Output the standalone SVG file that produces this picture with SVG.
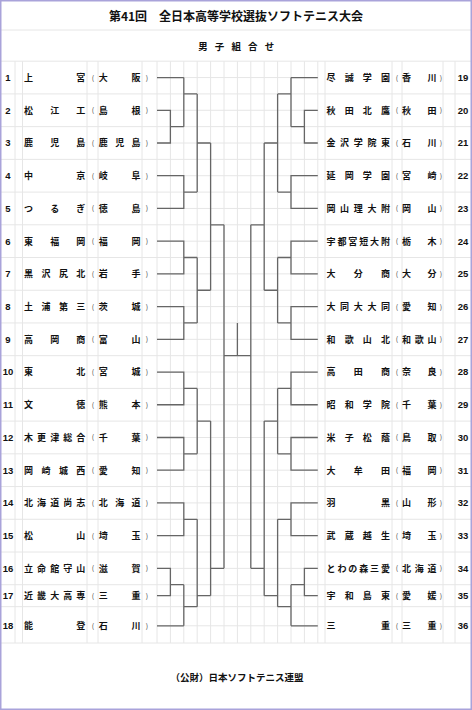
<svg xmlns="http://www.w3.org/2000/svg" width="472" height="710" viewBox="0 0 472 710">
<style>
.g{stroke:#e6e6e6;stroke-width:1;fill:none}
.b{stroke:#666;stroke-width:1.3;fill:none}
.t{font-family:"Noto Sans CJK JP","Noto Sans CJK SC",sans-serif;font-weight:bold;font-size:9px;fill:#111;text-anchor:middle}
.n{font-family:"Liberation Sans",Arial,sans-serif;font-weight:bold;font-size:9.5px;fill:#111;text-anchor:middle}
.p{font-family:"Noto Sans CJK JP",sans-serif;font-size:7px;fill:#444;text-anchor:middle}
.h{font-family:"Noto Sans CJK JP","Noto Sans CJK SC",sans-serif;font-weight:bold;fill:#111;text-anchor:middle}
</style>
<rect x="0" y="0" width="472" height="710" fill="#fff"/>
<g id="grid" class="g">
<path d="M0 30H471"/>
<path d="M15 61.2V643M22.5 61.2V643M87 61.2V643M98 61.2V643M142 61.2V643M157 61.2V643M170.4 61.2V643M183.8 61.2V643M197.2 61.2V643M210.6 61.2V643M224 61.2V643M237.4 61.2V643M250.8 61.2V643M264.2 61.2V643M277.6 61.2V643M291 61.2V643M304.4 61.2V643M317.8 61.2V643M325 61.2V643M392 61.2V643M402 61.2V643M443 61.2V643M455 61.2V643"/>
<path d="M0 61.2H471M0 93.92H471M0 126.64H471M0 159.36H471M0 192.08H471M0 224.8H471M0 257.52H471M0 290.24H471M0 322.96H471M0 355.68H471M0 388.4H471M0 421.12H471M0 453.84H471M0 486.56H471M0 519.28H471M0 552H471M0 584.72H471M0 606.7H471M0 643H471"/>
<path d="M157 77.56H317.8M157 110.28H317.8M157 143H317.8M157 175.72H317.8M157 208.44H317.8M157 241.16H317.8M157 273.88H317.8M157 306.6H317.8M157 339.32H317.8M157 372.04H317.8M157 404.76H317.8M157 437.48H317.8M157 470.2H317.8M157 502.92H317.8M157 535.64H317.8M157 568.36H317.8M157 595.7H317.8M157 625.8H317.8"/>
</g>
<g id="header">
<text class="h" x="236" y="20.5" font-size="12">第41回　全日本高等学校選抜ソフトテニス大会</text>
<text class="h" x="203 219.6 236.2 252.8 269.4" y="50" font-size="9.5">男子組合せ</text>
</g>
<g id="connectors" class="b">
<path d="M157 77.56H183.8M157 110.28H170.4V143H157M170.4 126.64H183.8M183.8 77.56V126.64M183.8 93.92H197.2M157 175.72H183.8V208.44H157M183.8 192.08H197.2M197.2 93.92V192.08M197.2 143H210.6M157 241.16H183.8V273.88H157M183.8 257.52H197.2M157 306.6H183.8V339.32H157M183.8 322.96H197.2M197.2 257.52V322.96M197.2 290.24H210.6M210.6 143V290.24M210.6 224.8H224M157 372.04H183.8V404.76H157M183.8 388.4H197.2M157 437.48H183.8V470.2H157M183.8 453.84H197.2M197.2 388.4V453.84M197.2 421.12H210.6M157 502.92H183.8V535.64H157M183.8 519.28H197.2M157 568.36H170.4V595.7H157M170.4 584.72H183.8M157 625.8H183.8M183.8 584.72V625.8M183.8 606.7H197.2M197.2 519.28V606.7M197.2 595.7H210.6M210.6 421.12V595.7M210.6 568.36H224M224 224.8V568.36"/>
<path d="M317.8 77.56H291M317.8 110.28H304.4V143H317.8M304.4 126.64H291M291 77.56V126.64M291 93.92H277.6M317.8 175.72H291V208.44H317.8M291 192.08H277.6M277.6 93.92V192.08M277.6 143H264.2M317.8 241.16H291V273.88H317.8M291 257.52H277.6M317.8 306.6H291V339.32H317.8M291 322.96H277.6M277.6 257.52V322.96M277.6 290.24H264.2M264.2 143V290.24M264.2 224.8H250.8M317.8 372.04H291V404.76H317.8M291 388.4H277.6M317.8 437.48H291V470.2H317.8M291 453.84H277.6M277.6 388.4V453.84M277.6 421.12H264.2M317.8 502.92H291V535.64H317.8M291 519.28H277.6M317.8 568.36H304.4V595.7H317.8M304.4 584.72H291M317.8 625.8H291M291 584.72V625.8M291 606.7H277.6M277.6 519.28V606.7M277.6 595.7H264.2M264.2 421.12V595.7M264.2 568.36H250.8M250.8 224.8V568.36"/>
<path d="M224 355.68H250.8M237.4 322.96V355.68"/>
</g>
<g id="e1"><text class="n" x="8" y="81">1</text><text class="t" x="28.5 80.8" y="80.9">上宮</text><text class="p" x="93" y="80.5">(</text><text class="t" x="103.3 136" y="80.9">大阪</text><text class="p" x="147" y="80.5">)</text></g>
<g id="e2"><text class="n" x="8" y="113.7">2</text><text class="t" x="28.5 54.65 80.8" y="113.6">松江工</text><text class="p" x="93" y="113.2">(</text><text class="t" x="103.3 136" y="113.6">島根</text><text class="p" x="147" y="113.2">)</text></g>
<g id="e3"><text class="n" x="8" y="146.4">3</text><text class="t" x="28.5 54.65 80.8" y="146.3">鹿児島</text><text class="p" x="93" y="145.9">(</text><text class="t" x="103.3 119.7 136" y="146.3">鹿児島</text><text class="p" x="147" y="145.9">)</text></g>
<g id="e4"><text class="n" x="8" y="179.1">4</text><text class="t" x="28.5 80.8" y="179">中京</text><text class="p" x="93" y="178.6">(</text><text class="t" x="103.3 136" y="179">岐阜</text><text class="p" x="147" y="178.6">)</text></g>
<g id="e5"><text class="n" x="8" y="211.8">5</text><text class="t" x="28.5 54.65 80.8" y="211.7">つるぎ</text><text class="p" x="93" y="211.3">(</text><text class="t" x="103.3 136" y="211.7">徳島</text><text class="p" x="147" y="211.3">)</text></g>
<g id="e6"><text class="n" x="8" y="244.6">6</text><text class="t" x="28.5 54.65 80.8" y="244.5">東福岡</text><text class="p" x="93" y="244.1">(</text><text class="t" x="103.3 136" y="244.5">福岡</text><text class="p" x="147" y="244.1">)</text></g>
<g id="e7"><text class="n" x="8" y="277.3">7</text><text class="t" x="28.5 45.9 63.4 80.8" y="277.2">黒沢尻北</text><text class="p" x="93" y="276.8">(</text><text class="t" x="103.3 136" y="277.2">岩手</text><text class="p" x="147" y="276.8">)</text></g>
<g id="e8"><text class="n" x="8" y="310">8</text><text class="t" x="28.5 45.9 63.4 80.8" y="309.9">土浦第三</text><text class="p" x="93" y="309.5">(</text><text class="t" x="103.3 136" y="309.9">茨城</text><text class="p" x="147" y="309.5">)</text></g>
<g id="e9"><text class="n" x="8" y="342.7">9</text><text class="t" x="28.5 54.65 80.8" y="342.6">高岡商</text><text class="p" x="93" y="342.2">(</text><text class="t" x="103.3 136" y="342.6">富山</text><text class="p" x="147" y="342.2">)</text></g>
<g id="e10"><text class="n" x="8" y="375.4">10</text><text class="t" x="28.5 80.8" y="375.3">東北</text><text class="p" x="93" y="374.9">(</text><text class="t" x="103.3 136" y="375.3">宮城</text><text class="p" x="147" y="374.9">)</text></g>
<g id="e11"><text class="n" x="8" y="408.2">11</text><text class="t" x="28.5 80.8" y="408.1">文徳</text><text class="p" x="93" y="407.7">(</text><text class="t" x="103.3 136" y="408.1">熊本</text><text class="p" x="147" y="407.7">)</text></g>
<g id="e12"><text class="n" x="8" y="440.9">12</text><text class="t" x="28.5 41.6 54.7 67.7 80.8" y="440.8">木更津総合</text><text class="p" x="93" y="440.4">(</text><text class="t" x="103.3 136" y="440.8">千葉</text><text class="p" x="147" y="440.4">)</text></g>
<g id="e13"><text class="n" x="8" y="473.6">13</text><text class="t" x="28.5 45.9 63.4 80.8" y="473.5">岡崎城西</text><text class="p" x="93" y="473.1">(</text><text class="t" x="103.3 136" y="473.5">愛知</text><text class="p" x="147" y="473.1">)</text></g>
<g id="e14"><text class="n" x="8" y="506.3">14</text><text class="t" x="28.5 41.6 54.7 67.7 80.8" y="506.2">北海道尚志</text><text class="p" x="93" y="505.8">(</text><text class="t" x="103.3 119.7 136" y="506.2">北海道</text><text class="p" x="147" y="505.8">)</text></g>
<g id="e15"><text class="n" x="8" y="539">15</text><text class="t" x="28.5 80.8" y="538.9">松山</text><text class="p" x="93" y="538.5">(</text><text class="t" x="103.3 136" y="538.9">埼玉</text><text class="p" x="147" y="538.5">)</text></g>
<g id="e16"><text class="n" x="8" y="571.8">16</text><text class="t" x="28.5 41.6 54.7 67.7 80.8" y="571.7">立命館守山</text><text class="p" x="93" y="571.3">(</text><text class="t" x="103.3 136" y="571.7">滋賀</text><text class="p" x="147" y="571.3">)</text></g>
<g id="e17"><text class="n" x="8" y="599.1">17</text><text class="t" x="28.5 41.6 54.7 67.7 80.8" y="599">近畿大高専</text><text class="p" x="93" y="598.6">(</text><text class="t" x="103.3 136" y="599">三重</text><text class="p" x="147" y="598.6">)</text></g>
<g id="e18"><text class="n" x="8" y="629.2">18</text><text class="t" x="28.5 80.8" y="629.1">能登</text><text class="p" x="93" y="628.7">(</text><text class="t" x="103.3 136" y="629.1">石川</text><text class="p" x="147" y="628.7">)</text></g>
<g id="e19"><text class="t" x="331 349.2 367.3 385.5" y="80.9">尽誠学園</text><text class="p" x="397" y="80.5">(</text><text class="t" x="406.5 432" y="80.9">香川</text><text class="p" x="441" y="80.5">)</text><text class="n" x="463" y="81">19</text></g>
<g id="e20"><text class="t" x="331 349.2 367.3 385.5" y="113.6">秋田北鷹</text><text class="p" x="397" y="113.2">(</text><text class="t" x="406.5 432" y="113.6">秋田</text><text class="p" x="441" y="113.2">)</text><text class="n" x="463" y="113.7">20</text></g>
<g id="e21"><text class="t" x="331 344.6 358.3 371.9 385.5" y="146.3">金沢学院東</text><text class="p" x="397" y="145.9">(</text><text class="t" x="406.5 432" y="146.3">石川</text><text class="p" x="441" y="145.9">)</text><text class="n" x="463" y="146.4">21</text></g>
<g id="e22"><text class="t" x="331 349.2 367.3 385.5" y="179">延岡学園</text><text class="p" x="397" y="178.6">(</text><text class="t" x="406.5 432" y="179">宮崎</text><text class="p" x="441" y="178.6">)</text><text class="n" x="463" y="179.1">22</text></g>
<g id="e23"><text class="t" x="331 344.6 358.3 371.9 385.5" y="211.7">岡山理大附</text><text class="p" x="397" y="211.3">(</text><text class="t" x="406.5 432" y="211.7">岡山</text><text class="p" x="441" y="211.3">)</text><text class="n" x="463" y="211.8">23</text></g>
<g id="e24"><text class="t" x="331 341.9 352.8 363.7 374.6 385.5" y="244.5">宇都宮短大附</text><text class="p" x="397" y="244.1">(</text><text class="t" x="406.5 432" y="244.5">栃木</text><text class="p" x="441" y="244.1">)</text><text class="n" x="463" y="244.6">24</text></g>
<g id="e25"><text class="t" x="331 358.3 385.5" y="277.2">大分商</text><text class="p" x="397" y="276.8">(</text><text class="t" x="406.5 432" y="277.2">大分</text><text class="p" x="441" y="276.8">)</text><text class="n" x="463" y="277.3">25</text></g>
<g id="e26"><text class="t" x="331 344.6 358.3 371.9 385.5" y="309.9">大同大大同</text><text class="p" x="397" y="309.5">(</text><text class="t" x="406.5 432" y="309.9">愛知</text><text class="p" x="441" y="309.5">)</text><text class="n" x="463" y="310">26</text></g>
<g id="e27"><text class="t" x="331 349.2 367.3 385.5" y="342.6">和歌山北</text><text class="p" x="397" y="342.2">(</text><text class="t" x="406.5 419.2 432" y="342.6">和歌山</text><text class="p" x="441" y="342.2">)</text><text class="n" x="463" y="342.7">27</text></g>
<g id="e28"><text class="t" x="331 358.3 385.5" y="375.3">高田商</text><text class="p" x="397" y="374.9">(</text><text class="t" x="406.5 432" y="375.3">奈良</text><text class="p" x="441" y="374.9">)</text><text class="n" x="463" y="375.4">28</text></g>
<g id="e29"><text class="t" x="331 349.2 367.3 385.5" y="408.1">昭和学院</text><text class="p" x="397" y="407.7">(</text><text class="t" x="406.5 432" y="408.1">千葉</text><text class="p" x="441" y="407.7">)</text><text class="n" x="463" y="408.2">29</text></g>
<g id="e30"><text class="t" x="331 349.2 367.3 385.5" y="440.8">米子松蔭</text><text class="p" x="397" y="440.4">(</text><text class="t" x="406.5 432" y="440.8">鳥取</text><text class="p" x="441" y="440.4">)</text><text class="n" x="463" y="440.9">30</text></g>
<g id="e31"><text class="t" x="331 358.3 385.5" y="473.5">大牟田</text><text class="p" x="397" y="473.1">(</text><text class="t" x="406.5 432" y="473.5">福岡</text><text class="p" x="441" y="473.1">)</text><text class="n" x="463" y="473.6">31</text></g>
<g id="e32"><text class="t" x="331 385.5" y="506.2">羽黒</text><text class="p" x="397" y="505.8">(</text><text class="t" x="406.5 432" y="506.2">山形</text><text class="p" x="441" y="505.8">)</text><text class="n" x="463" y="506.3">32</text></g>
<g id="e33"><text class="t" x="331 349.2 367.3 385.5" y="538.9">武蔵越生</text><text class="p" x="397" y="538.5">(</text><text class="t" x="406.5 432" y="538.9">埼玉</text><text class="p" x="441" y="538.5">)</text><text class="n" x="463" y="539">33</text></g>
<g id="e34"><text class="t" x="331 341.9 352.8 363.7 374.6 385.5" y="571.7">とわの森三愛</text><text class="p" x="397" y="571.3">(</text><text class="t" x="406.5 419.2 432" y="571.7">北海道</text><text class="p" x="441" y="571.3">)</text><text class="n" x="463" y="571.8">34</text></g>
<g id="e35"><text class="t" x="331 349.2 367.3 385.5" y="599">宇和島東</text><text class="p" x="397" y="598.6">(</text><text class="t" x="406.5 432" y="599">愛媛</text><text class="p" x="441" y="598.6">)</text><text class="n" x="463" y="599.1">35</text></g>
<g id="e36"><text class="t" x="331 385.5" y="629.1">三重</text><text class="p" x="397" y="628.7">(</text><text class="t" x="406.5 432" y="629.1">三重</text><text class="p" x="441" y="628.7">)</text><text class="n" x="463" y="629.2">36</text></g>
<g id="footer"><text class="h" x="237" y="681" font-size="9.5">（公財）日本ソフトテニス連盟</text></g>
<rect x="0.75" y="0.75" width="470.5" height="708.5" fill="none" stroke="#a9a3da" stroke-width="1.5"/>
</svg>
